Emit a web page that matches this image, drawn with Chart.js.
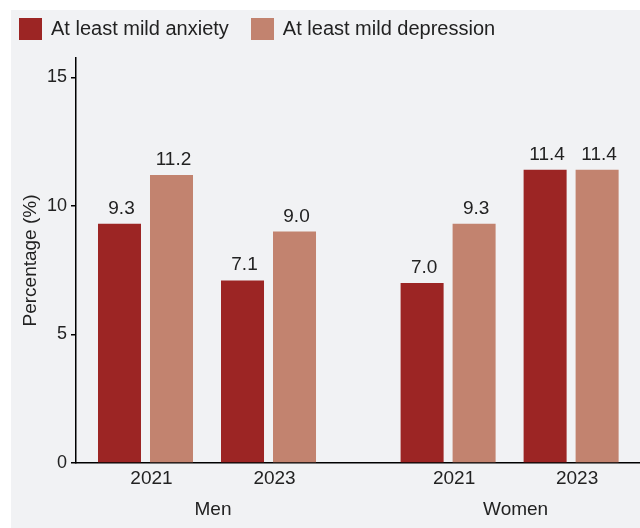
<!DOCTYPE html>
<html>
<head>
<meta charset="utf-8">
<script src="https://cdn.jsdelivr.net/npm/chart.js@4.4.1/dist/chart.umd.min.js"></script>
<style>
  html, body { margin: 0; padding: 0; background: #fff; }
  #panel { position: absolute; left: 11px; top: 10px; width: 629px; height: 518px; background: #f1f2f4; }
  #chartBox { position: absolute; left: 0; top: 0; width: 629px; height: 518px; }
  #legend { position: absolute; left: 8px; top: 7px; display: flex; align-items: center;
            font-family: 'Liberation Sans', Arial, sans-serif; font-size: 20px; color: #222; }
  #legend .item { display: flex; align-items: center; margin-right: 22px; }
  #legend .box { width: 23px; height: 22px; margin-right: 9px; }
</style>
</head>
<body>
<div id="panel">
  <div id="chartBox"><canvas id="chart"></canvas></div>
  <div id="legend"></div>
</div>
<script>
// data
const years = ['2021', '2023', '2021', '2023'];
const genders = ['Men', 'Women'];
const anxiety = [9.3, 7.1, 7.0, 11.4];
const depression = [11.2, 9.0, 9.3, 11.4];
const yTicks = [0, 5, 10, 15];

// where each year group / gender label sits on the x axis (gap between genders)
const slots = [0, 1, 2.46, 3.46];
const genderSlots = [0.5, 2.96];

const fontFamily = "'Liberation Sans', Arial, sans-serif";
const textColor = '#222';
const colAnx = '#9c2524';
const colDep = '#c2836f';

const datasets = [
    { label: 'At least mild anxiety', data: anxiety.map((v, i) => ({ x: slots[i], y: v })), backgroundColor: colAnx },
    { label: 'At least mild depression', data: depression.map((v, i) => ({ x: slots[i], y: v })), backgroundColor: colDep }
];

// legend as html
const legendEl = document.getElementById('legend');
datasets.forEach(ds => {
    const item = document.createElement('div');
    item.className = 'item';
    item.innerHTML = '<span class="box" style="background:' + ds.backgroundColor + '"></span><span>' + ds.label + '</span>';
    legendEl.appendChild(item);
});

const valueLabels = {
    id: 'valueLabels',
    afterDatasetsDraw(chart) {
        const ctx = chart.ctx;
        ctx.save();
        ctx.font = '19px ' + fontFamily;
        ctx.fillStyle = textColor;
        ctx.textAlign = 'center';
        ctx.textBaseline = 'alphabetic';
        chart.data.datasets.forEach((ds, di) => {
            chart.getDatasetMeta(di).data.forEach((bar, i) => {
                ctx.fillText(ds.data[i].y.toFixed(1), bar.x + 2, bar.y - 10);
            });
        });
        ctx.restore();
    }
};

const ctx = document.getElementById('chart').getContext('2d');
const chart = new Chart(ctx, {
    type: 'bar',
    data: { datasets: datasets },
    options: {
        responsive: true,
        maintainAspectRatio: false,
        animation: false,
        categoryPercentage: 0.8455,
        barPercentage: 0.827,
        layout: { padding: { top: 48, bottom: 0, left: 0, right: 0 } },
        plugins: {
            legend: { display: false },
            tooltip: { enabled: false }
        },
        scales: {
            x: {
                type: 'linear',
                position: 'bottom',
                offset: false,
                min: -0.565,
                max: 4.02,
                afterBuildTicks: s => { s.ticks = slots.map(v => ({ value: v })); },
                afterFit: s => { s.height = 30; },
                ticks: {
                    autoSkip: false,
                    maxRotation: 0,
                    padding: 4,
                    labelOffset: 6,
                    color: textColor,
                    font: { family: fontFamily, size: 19 },
                    callback: (v, i) => years[i]
                },
                grid: { display: false, drawTicks: false },
                border: { display: true, color: '#000', width: 1.5 }
            },
            gender: {
                type: 'linear',
                position: 'bottom',
                offset: false,
                min: -0.565,
                max: 4.02,
                afterBuildTicks: s => { s.ticks = genderSlots.map(v => ({ value: v })); },
                afterFit: s => { s.height = 35; },
                ticks: {
                    autoSkip: false,
                    maxRotation: 0,
                    padding: 5,
                    labelOffset: 6,
                    color: textColor,
                    font: { family: fontFamily, size: 19 },
                    callback: (v, i) => genders[i]
                },
                grid: { display: false, drawTicks: false },
                border: { display: false }
            },
            y: {
                min: 0,
                max: 15.75,
                afterBuildTicks: s => { s.ticks = yTicks.map(v => ({ value: v })); },
                afterFit: s => { s.width = 65; },
                ticks: {
                    padding: 4,
                    color: textColor,
                    font: { family: fontFamily, size: 18 }
                },
                grid: { drawOnChartArea: false, drawTicks: true, tickLength: 5, color: '#000', lineWidth: 1.5 },
                border: { display: true, color: '#000', width: 1.5 },
                title: {
                    display: true,
                    text: 'Percentage (%)',
                    color: textColor,
                    font: { family: fontFamily, size: 19 },
                    padding: { top: 8, bottom: 0 }
                }
            }
        }
    },
    plugins: [valueLabels]
});
</script>
</body>
</html>
